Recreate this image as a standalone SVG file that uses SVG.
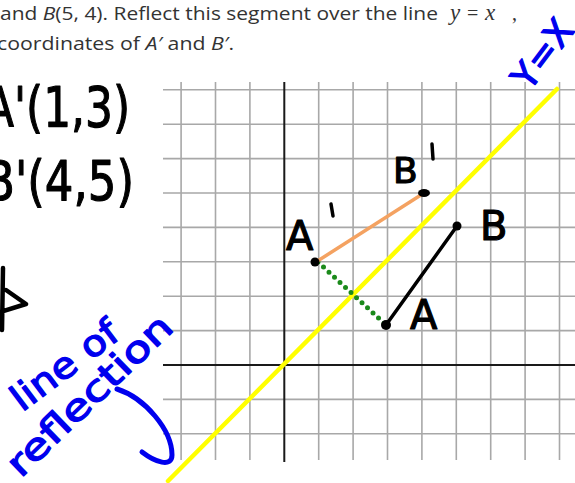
<svg xmlns="http://www.w3.org/2000/svg" width="575" height="483" viewBox="0 0 575 483">
<style>
.grid{stroke:#a8a8a8;stroke-width:1.6;fill:none}
.axis{stroke:#1a1a1a;stroke-width:2;fill:none}
.print{font-family:"Open Sans","Liberation Sans",sans-serif;fill:#333;font-size:19px}
.hand{font-family:"DejaVu Sans","Liberation Sans",sans-serif;fill:#000;stroke:#000;stroke-width:1.2;stroke-linejoin:round}
.blue{font-family:"DejaVu Sans","Liberation Sans",sans-serif;fill:#0000ee;stroke:#0000ee;stroke-width:1.3;stroke-linejoin:round}
.pt{fill:#000}
</style>
<rect width="575" height="483" fill="#fff"/>
<g id="question">
<text class="print" x="0" y="20" textLength="438" lengthAdjust="spacingAndGlyphs">and <tspan font-style="italic">B</tspan>(5, 4). Reflect this segment over the line</text>
<text x="450" y="20" font-family="Liberation Serif,serif" font-style="italic" font-size="23" fill="#333">y</text>
<text x="467" y="20" font-family="Liberation Serif,serif" font-size="20" fill="#333">=</text>
<text x="485" y="20" font-family="Liberation Serif,serif" font-style="italic" font-size="23" fill="#333">x</text>
<text x="512" y="20" font-family="Liberation Serif,serif" font-size="20" fill="#333">,</text>
<text class="print" x="-3" y="50" textLength="237" lengthAdjust="spacingAndGlyphs">coordinates of <tspan font-style="italic">A′</tspan> and <tspan font-style="italic">B′</tspan>.</text>
</g>
<g id="answers">
<text class="hand" x="-16" y="126" font-size="56" textLength="146" lengthAdjust="spacingAndGlyphs">A'(1,3)</text>
<text class="hand" x="-16" y="200" font-size="56" textLength="150" lengthAdjust="spacingAndGlyphs">B'(4,5)</text>
<path d="M3,268 L2,330 M0,312 L26,304 L6,290" fill="none" stroke="#000" stroke-width="4.5" stroke-linecap="round" stroke-linejoin="round"/>
</g>
<g id="grid">
<path class="grid" d="M181.1,82V460M215.5,82V460M249.9,82V460M318.7,82V460M353.1,82V460M387.5,82V460M421.9,82V460M456.3,82V460M490.7,82V460M525.1,82V460M559.5,82V460"/>
<path class="grid" d="M163,89.8H575M163,124.2H575M163,158.6H575M163,193H575M163,227.4H575M163,261.8H575M163,296.2H575M163,330.6H575M163,399.4H575M163,433.8H575"/>
<path class="axis" d="M284.3,82V462M163,365H575"/>
</g>
<g id="line-y-eq-x">
<line x1="168" y1="481" x2="557" y2="89" stroke="#ffff00" stroke-width="4.5" stroke-linecap="round"/>
</g>
<g id="connectors">
<line x1="318" y1="262" x2="386" y2="325" stroke="#1b8a1b" stroke-width="5" stroke-linecap="round" stroke-dasharray="0 7.5"/>
<line x1="316" y1="262" x2="424" y2="193" stroke="#f4a261" stroke-width="3.5" stroke-linecap="round"/>
<line x1="386" y1="325" x2="457" y2="226" stroke="#000" stroke-width="3.5" stroke-linecap="round"/>
</g>
<g id="point-A">
<circle class="pt" cx="386" cy="325" r="5"/>
<text class="hand" x="410" y="329" font-size="40">A</text>
</g>
<g id="point-B">
<circle class="pt" cx="457" cy="226" r="4.5"/>
<text class="hand" x="480" y="240" font-size="40">B</text>
</g>
<g id="point-A-prime">
<circle class="pt" cx="315" cy="262" r="4.5"/>
<text class="hand" x="286" y="250" font-size="40">A</text>
<path d="M331,204 L333,216" stroke="#000" stroke-width="3.5" stroke-linecap="round"/>
</g>
<g id="point-B-prime">
<ellipse class="pt" cx="424" cy="193" rx="6" ry="4"/>
<text class="hand" x="393" y="183" font-size="36">B</text>
<path d="M432,144 L433,159" stroke="#000" stroke-width="3.5" stroke-linecap="round"/>
</g>
<g id="label-y-eq-x">
<text class="blue" x="543" y="66" font-size="36" text-anchor="middle" transform="rotate(-53 543 54)">Y=X</text>
</g>
<g id="label-line-of-reflection">
<text class="blue" x="72" y="375" font-size="36" text-anchor="middle" textLength="125" lengthAdjust="spacingAndGlyphs" transform="rotate(-37 72 375)">line of</text>
<text class="blue" x="98" y="404" font-size="36" text-anchor="middle" textLength="215" lengthAdjust="spacingAndGlyphs" transform="rotate(-44 98 404)">reflection</text>
<path d="M117,389 C145,398 172,430 172,455 C172,468 155,462 142,452" fill="none" stroke="#0000ee" stroke-width="5" stroke-linecap="round"/>
</g>
</svg>
